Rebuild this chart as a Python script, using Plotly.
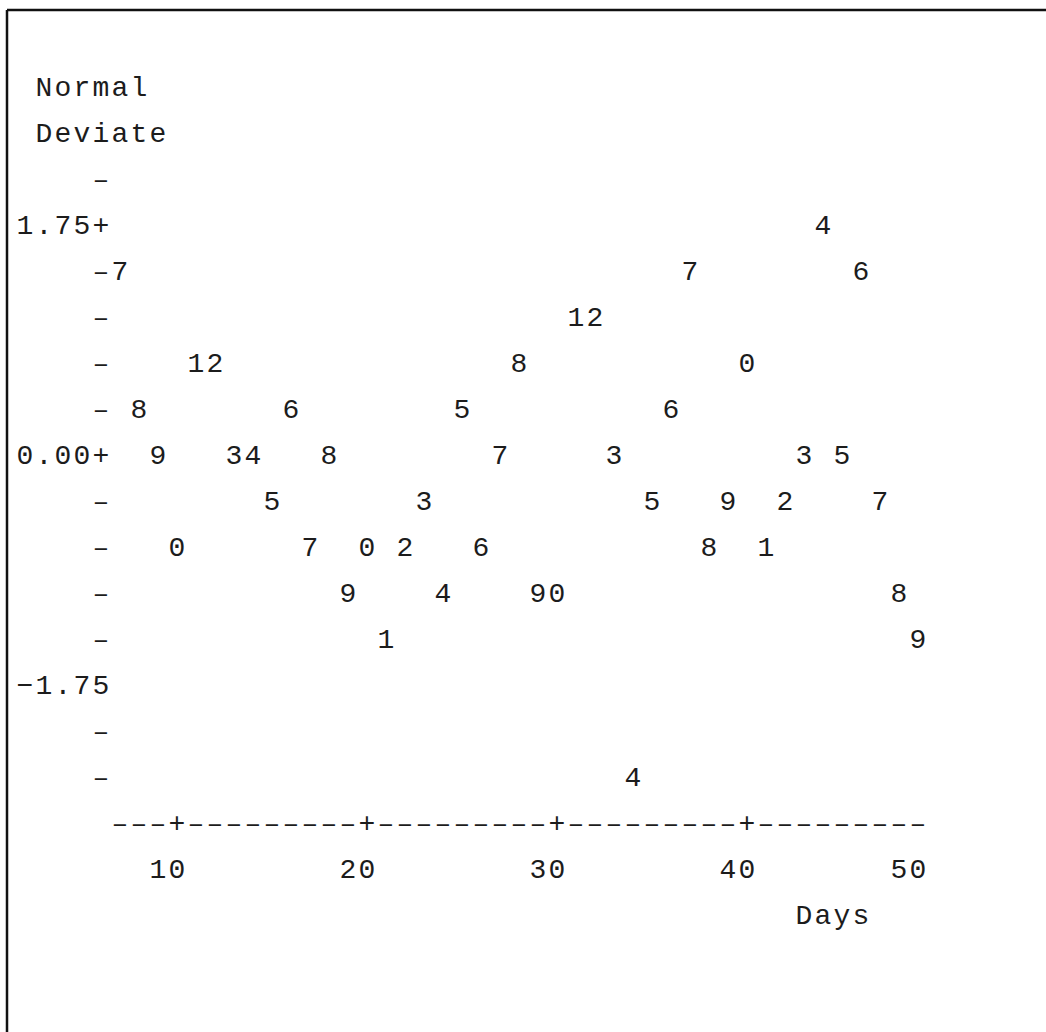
import plotly.graph_objects as go

# Normal deviate of each day's observation (line-printer plot, one row = 0.35)
days = list(range(7, 50))
deviate = [1.40, 0.35, 0.00, -0.70, 0.70, 0.70, 0.00, 0.00, -0.35, 0.35,
           -0.70, 0.00, -1.05, -0.70, -1.40, -0.70, -0.35, -1.05, 0.35, -0.70,
           0.00, 0.70, -1.05, -1.05, 1.05, 1.05, 0.00, -2.45, -0.35, 0.35,
           1.40, -0.70, -0.35, 0.70, -0.70, -0.35, 0.00, 1.75, 0.00, 1.40,
           -0.35, -1.05, -1.40]

# Axis description
row_step = 0.35
y_tick_rows = [2.10, 1.75, 1.40, 1.05, 0.70, 0.35, 0.00, -0.35, -0.70,
               -1.05, -1.40, -1.75, -2.10, -2.45]
y_tick_labels = {1.75: "1.75", 0.00: "0.00", -1.75: "\u22121.75"}
x_tick_vals = [10, 20, 30, 40, 50]
x_tick_labels = ["10", "20", "30", "40", "50"]
y_title = ["Normal", "Deviate"]
x_title = "Days"

# Character grid layout (columns are days, rows are multiples of row_step)
axis_col = 6          # column holding the vertical axis
label_col = 2         # first column of y tick labels
first_col, last_col = days[0], days[-1]
axis_row = -2.80
tick_label_row = axis_row - row_step
x_title_row = tick_label_row - row_step
x_title_end = 46
y_title_col = 3
y_title_rows = [2.80, 2.45]

DASH = "\u2013"
INK = "#1c1c1c"
FONT = dict(family="Liberation Mono, Courier New, monospace", size=28, color=INK)

chars = {}


def put(col, row, text):
    for i, ch in enumerate(text):
        if ch != " ":
            chars[(col + i, round(row, 2))] = ch


# vertical axis: a dash on every row, '+' on labelled rows, then the labels
for r in y_tick_rows:
    put(axis_col, r, "+" if r in y_tick_labels else DASH)
for r, lab in y_tick_labels.items():
    put(label_col, r, lab)

# horizontal axis line with '+' at the tick days
for d in range(first_col, last_col + 1):
    put(d, axis_row, "+" if d in x_tick_vals else DASH)

# tick labels end on their tick column (clamped to the end of the axis)
for v, lab in zip(x_tick_vals, x_tick_labels):
    end = min(v, last_col)
    put(end - len(lab) + 1, tick_label_row, lab)

put(x_title_end - len(x_title) + 1, x_title_row, x_title)
for r, t in zip(y_title_rows, y_title):
    put(y_title_col, r, t)

frame_x = [k[0] for k in chars]
frame_y = [k[1] for k in chars]
frame_t = list(chars.values())

fig = go.Figure()
fig.add_trace(go.Scatter(
    x=frame_x, y=frame_y, text=frame_t, mode="text",
    textposition="middle center", textfont=FONT, hoverinfo="skip",
    showlegend=False,
))
# each point is printed as the last digit of its day
fig.add_trace(go.Scatter(
    x=days, y=deviate, text=[str(d % 10) for d in days], mode="text",
    textposition="middle center", textfont=FONT, name="Normal Deviate",
    showlegend=False,
))

W, H = 1046, 1032
col_px = 19.0
col_origin = -13.0        # pixel x of column 0
row_px = 46.0
zero_px = 457.0           # pixel y of the 0.00 row

x_lo = (0 - col_origin) / col_px
x_hi = (W - col_origin) / col_px
y_hi = zero_px / row_px * row_step
y_lo = -(H - zero_px) / row_px * row_step

fig.update_xaxes(range=[x_lo, x_hi], visible=False, fixedrange=True)
fig.update_yaxes(range=[y_lo, y_hi], visible=False, fixedrange=True)

fig.update_layout(
    width=W, height=H,
    margin=dict(l=0, r=0, t=0, b=0),
    paper_bgcolor="white", plot_bgcolor="white",
    shapes=[
        dict(type="line", xref="paper", yref="paper",
             x0=7 / W, x1=1, y0=1 - 10 / H, y1=1 - 10 / H,
             line=dict(color="#111111", width=2.5)),
        dict(type="line", xref="paper", yref="paper",
             x0=7 / W, x1=7 / W, y0=0, y1=1 - 10 / H,
             line=dict(color="#111111", width=2.5)),
    ],
)

fig.write_html("out.html")
